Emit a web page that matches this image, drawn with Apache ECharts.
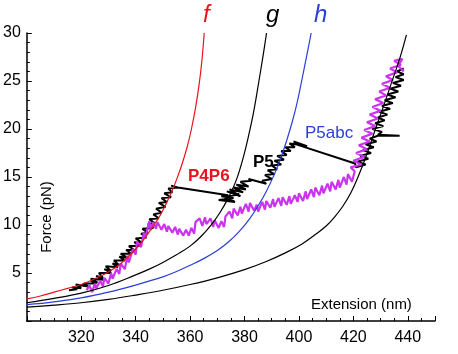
<!DOCTYPE html>
<html>
<head>
<meta charset="utf-8">
<script src="https://cdn.jsdelivr.net/npm/echarts@6/dist/echarts.min.js"></script>
<style>
  html, body { margin: 0; padding: 0; background: #fff; }
  #mainPlot { width: 458px; height: 354px; }
</style>
</head>
<body>
<div id="mainPlot"></div>
<script>
// model curves (extension nm, force pN)
const curveF = [[300,2.3],[305,2.6],[310,3.0],[315,3.4],[320,3.8],[325,4.4],[330,5.1],[335,6.1],[340,7.5],[343,8.5],[346,9.7],[349,11.0],[351,12.1],[353,13.3],[355,14.7],[357,16.3],[359,18.2],[360.5,20],[362,22.2],[363.3,24.6],[364.3,27],[365.2,30]];
const curveG = [[300,1.9],[310,2.35],[320,2.9],[330,3.7],[340,4.8],[345,5.4],[350,6.1],[355,6.9],[360,7.8],[364,8.8],[368,10.1],[371,11.3],[374,12.8],[377,14.7],[379.5,17.0],[381.5,19.3],[383.3,21.7],[385.3,25.0],[386.8,27.6],[388.1,30]];
const curveH = [[300,1.7],[310,2.0],[320,2.4],[330,3.0],[340,3.75],[350,4.6],[355,5.15],[360,5.8],[365,6.5],[370,7.35],[374,8.2],[378,9.3],[382,10.7],[385,12.0],[388,13.5],[391,15.3],[393.5,17.1],[395.5,18.8],[397.5,20.7],[399.3,22.7],[401,25],[402.7,27.4],[404.5,30]];
const curveK = [[300,1.45],[310,1.65],[320,1.9],[330,2.25],[340,2.7],[350,3.2],[360,3.8],[370,4.5],[380,5.35],[388,6.2],[395,7.1],[401,8.0],[406,9.0],[410,9.9],[413,10.8],[416,11.9],[419,13.3],[422,15.2],[425,17.4],[428,19.9],[431,22.3],[434,24.8],[437,27.3],[439.5,29.8]];

// black pulling trace
const traceBlack = [
  [315.5,3.2],[318.5,3.3],[316.5,3.5],[320,3.4],[318,3.8],[322.5,3.6],[320.5,3.9],[323,3.5],[321,3.9],[325.5,3.9],
  [323.5,4.2],[326,4.0],[323.5,4.4],[328,4.3],[325.5,4.7],[328,4.5],[326.5,5.0],[331,5.0],[328.5,5.4],[331,5.2],
  [329,5.7],[333.5,5.6],[331.5,6.0],[334,5.8],[332,6.3],[336,6.3],[334,6.7],[337,6.6],[334.5,7.0],[338.5,7.0],
  [336.5,7.4],[339.5,7.4],[337.5,7.8],[341.5,7.8],[339.5,8.2],[342,8.2],[340,8.6],[344,8.7],[342,9.1],[344.5,9.2],
  [342.5,9.6],[346.5,9.7],[344.5,10.1],[347,10.2],[345,10.6],[348.5,10.7],[346.5,11.1],[349.5,11.3],[347.5,11.7],[351,11.9],
  [348.5,12.3],[351.5,12.4],[349.5,12.8],[353,12.9],[350.5,13.3],[353.5,13.4],[352,13.8],[355.5,13.9],[353,14.1],[355.5,13.9],
  [374,13.1],
  [371.5,13.0],[376,12.8],[370.5,12.6],[376.5,12.4],[372.5,12.9],[378,13.2],[373.5,13.5],[378.5,13.0],[374.5,13.7],[379.5,13.4],
  [376,13.9],[380.5,13.7],[377,14.2],[381.5,14.0],[378.5,14.5],[382.5,14.6],[381.5,14.8],
  [388,14.3],
  [386.5,14.6],[390,14.8],[387.5,15.2],[391,15.3],[388.5,15.7],[392,15.8],[390,16.2],[393.5,16.3],[391,16.7],[394.5,16.8],
  [392,17.2],[395.5,17.3],[393.5,17.7],[397,17.7],[395,18.1],[398.5,18.1],[396.5,18.5],[401.5,18.3],[398,18.7],[403,18.2],[399,18.4],
  [420.6,16.4],
  [421,16.0],[424.5,16.3],[421.5,16.6],[425.5,16.9],[422.5,17.2],[426.5,17.5],[423.5,17.8],[427.5,18.1],[424.5,18.4],[428.5,18.7],
  [426,19.0],[429,19.3],[437,19.3],[429,19.4],[430.5,19.7],[427,20.0],[431,20.3],[428,20.6],[431.5,20.9],[429,21.2],
  [432.5,21.5],[429.5,21.8],[433.5,22.1],[430.5,22.4],[434.5,22.7],[431.5,23.0],[435.5,23.3],[432.5,23.6],[436.5,23.9],[433.5,24.2],
  [437.5,24.5],[434.5,24.8],[438.5,25.1],[435.5,25.4],[438.5,25.7],[436,26.0],[438.5,26.3]
];

// magenta pulling trace
const traceMagenta = [
  [322,3.2],[323,3.7],[324,3.0],[325,3.9],[325.5,3.4],[327,4.2],[328,3.6],[328.5,4.5],[330,3.9],[331,5.0],
  [331.5,4.4],[333,5.4],[334,4.9],[334.5,6.0],[336,5.4],[337,6.8],[337.5,6.1],[339,7.5],[340,6.9],[340.5,8.3],
  [342,7.7],[343,9.2],[343.5,8.6],[345,10.4],[345.5,9.5],[346.5,10.3],[347.5,9.6],[348,10.3],[349.5,9.5],[350.5,10.1],
  [351.5,9.3],[352,9.9],[353.5,9.2],[354.5,9.8],[355.5,9.0],[356,9.6],[357.5,8.9],[358.5,9.5],[359.5,8.9],[360.5,9.7],
  [361.5,9.1],[362,10.3],[363.5,10.7],[364.5,9.9],[365.5,10.8],[366,10.1],[367.5,10.7],[368.5,9.8],[369,10.5],[370.5,9.7],
  [371.5,10.4],[372.5,9.8],[373,10.9],[374.5,11.4],[375.5,10.7],[376,11.7],[377.5,11.0],[378.5,11.9],[379,11.2],[380.5,12.2],
  [381.5,11.4],[382,12.3],[383.5,11.5],[384.5,12.1],[385,11.4],[386.5,12.4],[387.5,11.6],[388,12.5],[389.5,11.8],[390.5,12.7],
  [391,11.9],[392.5,12.8],[393.5,12.0],[394,12.9],[395.5,12.1],[396.5,13.0],[397,12.2],[398.5,13.1],[399.5,12.4],[400,13.3],
  [401.5,12.5],[402.5,13.5],[403,12.7],[404.5,13.7],[405.5,12.9],[406,13.9],[407.5,13.1],[408.5,14.1],[409,13.3],[410.5,14.3],
  [411.5,13.5],[412,14.5],[413.5,13.7],[414.5,14.7],[415,13.9],[416.5,15.0],[417.5,14.2],[418,15.3],[419.5,14.5],[420.5,15.6],
  [419,16.0],[423,16.3],[420,16.7],[424,17.1],[421,17.5],[425,17.9],[422,18.3],[426,18.7],[423,19.1],[427,19.5],
  [424,19.9],[428,20.3],[425,20.7],[429,21.1],[426,21.5],[430,21.9],[427,22.3],[431,22.7],[428,23.1],[432,23.5],
  [429.5,23.9],[433.5,24.3],[430.5,24.7],[434.5,25.1],[432,25.5],[436,25.9],[433.5,26.3],[437.5,26.7],[435,27.1],[438,27.3],[436.5,26.6],[438.5,26.0]
];

const xTicks = [320, 340, 360, 380, 400, 420, 440];
const yTicks = [5, 10, 15, 20, 25, 30];

const font = "'Liberation Sans', Arial, sans-serif";
const chart = echarts.init(document.getElementById("mainPlot"));

function lineSeries(data, color, width, z, smooth) {
  return {
    type: "line",
    data: data,
    showSymbol: false,
    symbol: "none",
    smooth: smooth || false,
    lineStyle: { color: color, width: width },
    z: z,
    animation: false,
  };
}

const option = {
  animation: false,
  grid: { left: 25, right: 23, top: 33, bottom: 33 },
  xAxis: {
    type: "value",
    min: 300,
    max: 450,
    interval: 20,
    axisLine: { lineStyle: { color: "#000", width: 1.5 } },
    axisTick: { inside: true, length: 5, lineStyle: { color: "#000" } },
    minorTick: { show: true, splitNumber: 4, length: 3, lineStyle: { color: "#000" } },
    splitLine: { show: false },
    axisLabel: {
      margin: 9,
      fontSize: 16,
      color: "#000",
      fontFamily: font,
      formatter: (v) => (xTicks.includes(v) ? String(v) : ""),
    },
  },
  yAxis: {
    type: "value",
    min: 0,
    max: 30,
    interval: 5,
    axisLine: { show: true, lineStyle: { color: "#000", width: 1.5 } },
    axisTick: { show: true, inside: true, length: 5, lineStyle: { color: "#000" } },
    minorTick: { show: true, splitNumber: 5, length: 3, lineStyle: { color: "#000" } },
    splitLine: { show: false },
    axisLabel: {
      margin: 6,
      fontSize: 16,
      color: "#000",
      fontFamily: font,
      formatter: (v) => (yTicks.includes(v) ? String(v) : ""),
    },
  },
  graphic: [
    { type: "text", left: 203, top: 3, style: { text: "f", fill: "#e8141e", font: "italic 24px " + font } },
    { type: "text", left: 266, top: 3, style: { text: "g", fill: "#000", font: "italic 24px " + font } },
    { type: "text", left: 314, top: 3, style: { text: "h", fill: "#2a3fd8", font: "italic 24px " + font } },
    { type: "text", left: 188, top: 168, style: { text: "P4P6", fill: "#e8141e", font: "bold 17px " + font } },
    { type: "text", left: 253, top: 154, style: { text: "P5", fill: "#000", font: "bold 17px " + font } },
    { type: "text", left: 305, top: 125, style: { text: "P5abc", fill: "#2a3fd8", font: "17px " + font } },
    { type: "text", left: 311, top: 297, style: { text: "Extension (nm)", fill: "#000", font: "15px " + font } },
    {
      type: "text", x: 47, y: 217, rotation: Math.PI / 2,
      style: { text: "Force (pN)", fill: "#000", font: "15px " + font, align: "center", verticalAlign: "middle" },
    },
  ],
  series: [
    lineSeries(traceBlack, "#000", 2, 2),
    lineSeries(traceMagenta, "#cc33ee", 2.2, 3),
    lineSeries(curveK, "#000", 1.2, 4, 0.4),
    lineSeries(curveH, "#2a3fd8", 1.2, 4, 0.4),
    lineSeries(curveG, "#000", 1.2, 4, 0.4),
    lineSeries(curveF, "#e8141e", 1.2, 4, 0.4),
  ],
};

chart.setOption(option);
</script>
</body>
</html>
